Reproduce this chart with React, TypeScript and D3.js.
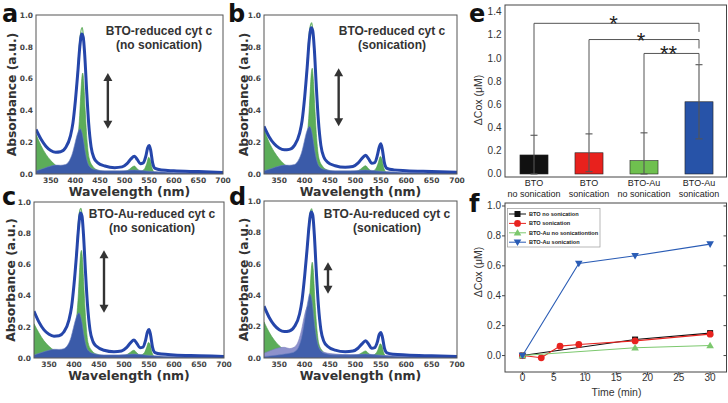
import React from "react";
import * as d3 from "d3";

// ---------- Spectra (panels a-d) ----------
const SPEC_W = [320,330,340,350,360,370,380,390,395,400,405,409,413,416,419,423,427,432,438,445,460,480,495,505,513,520,526,532,538,543,547,550,553,557,562,575,600,650,700];
const lineA = [.28,.22,.175,.148,.137,.14,.165,.24,.32,.46,.64,.8,.88,.86,.75,.52,.32,.17,.1,.072,.05,.04,.045,.065,.095,.112,.09,.065,.07,.11,.165,.18,.15,.07,.035,.025,.02,.015,.01];
const lineB = [.30,.235,.19,.163,.152,.155,.18,.255,.335,.48,.67,.84,.92,.9,.79,.55,.34,.18,.105,.075,.052,.042,.047,.068,.098,.118,.095,.068,.072,.115,.17,.19,.155,.072,.036,.026,.021,.016,.011];
const lineC = [.30,.23,.18,.152,.14,.143,.168,.245,.325,.47,.66,.83,.93,.91,.79,.55,.34,.18,.105,.075,.05,.04,.045,.066,.097,.115,.092,.066,.07,.112,.168,.182,.15,.07,.035,.025,.02,.015,.01];
const lineD = [.33,.26,.21,.18,.168,.172,.2,.28,.37,.52,.7,.85,.93,.91,.79,.55,.34,.18,.105,.075,.05,.04,.044,.062,.09,.11,.088,.062,.066,.1,.15,.162,.135,.065,.033,.024,.019,.014,.01];

const TIP_W = [395,400,405,409,412,414,416,419,423,427,432,438,445];
const tipA = [.32,.47,.67,.84,.91,.92,.88,.76,.52,.32,.17,.1,.072];
const tipB = [.335,.49,.7,.88,.94,.95,.91,.79,.55,.34,.18,.105,.075];
const tipC = [.325,.48,.69,.88,.95,.96,.92,.79,.55,.34,.18,.105,.075];
const tipD = [.37,.53,.72,.88,.94,.95,.91,.79,.55,.34,.18,.105,.075];

const GREEN_W = [320,330,340,350,360,370,380,390,398,404,408,411,413,415,417,420,424,428,435,445,470,500,510,516,520,525,532,540,545,549,552,556,562,600,700];
const greenA = [.25,.18,.125,.085,.055,.038,.035,.06,.11,.2,.33,.5,.6,.635,.58,.4,.2,.1,.05,.025,.01,.015,.03,.045,.05,.035,.018,.03,.065,.105,.09,.035,.008,0,0];
const greenB = [.28,.2,.14,.095,.062,.043,.04,.065,.115,.21,.35,.52,.63,.665,.6,.42,.21,.1,.05,.025,.01,.015,.03,.046,.052,.036,.018,.032,.07,.11,.095,.036,.008,0,0];
const greenC = [.22,.16,.11,.075,.05,.035,.035,.065,.12,.22,.37,.55,.66,.69,.63,.44,.22,.1,.05,.025,.01,.015,.03,.045,.05,.035,.018,.03,.065,.1,.088,.034,.008,0,0];
const greenD = [.23,.165,.115,.078,.052,.036,.034,.06,.1,.18,.3,.45,.56,.61,.56,.38,.19,.09,.045,.022,.01,.014,.028,.04,.045,.032,.016,.028,.058,.09,.078,.03,.007,0,0];

const BLUE_W = [320,335,350,360,370,380,388,394,399,403,407,410,413,416,420,425,431,440,460,490,520,540,560,600,700];
const blueA = [.02,.035,.05,.056,.055,.06,.085,.13,.19,.24,.275,.285,.265,.22,.14,.07,.04,.028,.02,.02,.025,.02,.015,.01,.005];
const blueB = [.02,.035,.05,.056,.055,.06,.088,.135,.2,.255,.29,.3,.28,.23,.145,.072,.04,.028,.02,.02,.025,.02,.015,.01,.005];
const blueC = [.02,.035,.05,.056,.055,.06,.086,.132,.195,.245,.28,.29,.27,.225,.142,.07,.04,.028,.02,.02,.025,.02,.015,.01,.005];
const blueD = [.01,.015,.02,.025,.03,.04,.07,.13,.22,.3,.37,.41,.39,.32,.2,.1,.05,.03,.02,.02,.025,.02,.015,.01,.005];
const lavD = [.03,.05,.065,.068,.06,.07,.11,.18,.26,.31,.33,.32,.28,.22,.14,.08,.05,.035,.025,.02,.02,.018,.015,.01,.005];

const WL_TICKS = [350,400,450,500,550,600,650,700];
const ABS_TICKS = [0,0.2,0.4,0.6,0.8,1.0];

// ---------- Bar chart (panel e) ----------
const barLine1 = ["BTO","BTO","BTO-Au","BTO-Au"];
const barLine2 = ["no sonication","sonication","no sonication","sonication"];
const barValues = [0.164,0.183,0.115,0.623];
const barErrors = [0.17,0.163,0.24,0.32];
const barColors = ["#111111","#e8211d","#6fc04f","#2753a8"];
const E_TICKS = [0,0.2,0.4,0.6,0.8,1.0,1.2,1.4];
const sigFrom = [0,1,2];
const sigTo = [3,3,3];
const sigTop = [1.30,1.16,1.04];
const sigRightEnd = [1.226,1.083,0.95];
const sigLabel = ["*","*","**"];

// ---------- Time course (panel f) ----------
const seriesNames = ["BTO no sonication","BTO sonication","BTO-Au no sonicationtion","BTO-Au sonication"];
const tBtoNo = [0,18,30];
const vBtoNo = [0,0.107,0.15];
const tBtoSon = [0,3,6,9,18,30];
const vBtoSon = [0,-0.015,0.063,0.074,0.098,0.143];
const tAuNo = [0,18,30];
const vAuNo = [0,0.052,0.067];
const tAuSon = [0,9,18,30];
const vAuSon = [0,0.615,0.667,0.745];
const seriesColors = ["#111111","#e8231f","#7cc86e","#2a5cb5"];
const F_XTICKS = [0,5,10,15,20,25,30];
const F_YTICKS = [0,0.2,0.4,0.6,0.8,1.0];

type Pt = [number, number];
const zip = (xs: number[], ys: number[]): Pt[] => xs.map((x, i) => [x, ys[i]]);

const DJ = "'DejaVu Sans', sans-serif";
const AR = "'Liberation Sans', Arial, sans-serif";

function Spectrum(p: any) {
  const [x0, x1, yT, yB] = p.box;
  const x = d3.scaleLinear().domain([320, 700]).range([x0, x1]);
  const y = d3.scaleLinear().domain([0, 1]).range([yB, yT]);
  const area = d3.area<Pt>().x(d => x(d[0])).y0(yB).y1(d => y(d[1])).curve(d3.curveMonotoneX);
  const ln = d3.line<Pt>().x(d => x(d[0])).y(d => y(d[1])).curve(d3.curveMonotoneX);
  const line = zip(SPEC_W, p.line);
  const tip = zip(TIP_W, p.tip);
  const green = zip(GREEN_W, p.green);
  const blue = zip(BLUE_W, p.blue);
  const lav = p.lav ? zip(BLUE_W, p.lav) : null;
  const gMax = d3.max(p.green as number[])!;
  const bMax = d3.max(p.blue as number[])!;
  const ax = x(p.arrowWl);
  const ayT = y(gMax), ayB = y(bMax);
  const fmt = d3.format(".1f");
  const cid = "clip-" + p.id;
  return (
    <g>
      <clipPath id={cid}><rect x={x0} y={yT} width={x1 - x0} height={yB - yT} /></clipPath>
      <g clipPath={`url(#${cid})`}>
        <path d={area(green)!} fill="#5cad59" stroke="#4a9a4a" strokeWidth={0.6} />
        {lav && <path d={area(lav)!} fill="#8e92cc" stroke="#7a80c0" strokeWidth={0.6} />}
        <path d={area(blue)!} fill="#3b5ba9" fillOpacity={lav ? 0.92 : 1} stroke="#6b7fc0" strokeWidth={0.6} />
        <path d={ln(tip)!} fill="none" stroke="#6fb56c" strokeWidth={1.2} />
        <path d={ln(line)!} fill="none" stroke="#2546aa" strokeWidth={3} strokeLinejoin="round" />
      </g>
      <rect x={x0} y={yT} width={x1 - x0} height={yB - yT} fill="none" stroke="#555" strokeWidth={1} />
      <line x1={ax} x2={ax} y1={ayT + 5} y2={ayB - 5} stroke="#333" strokeWidth={2.4} />
      <path d={`M${ax},${ayT} L${ax - 4.5},${ayT + 8} L${ax + 4.5},${ayT + 8} Z`} fill="#333" />
      <path d={`M${ax},${ayB} L${ax - 4.5},${ayB - 8} L${ax + 4.5},${ayB - 8} Z`} fill="#333" />
      {WL_TICKS.map(t => (
        <text key={"x" + t} x={x(t)} y={yB + 9} fontFamily={DJ} fontWeight="bold" fontSize={7.5} fill="#444" textAnchor="middle">{t}</text>
      ))}
      {ABS_TICKS.map(t => (
        <text key={"y" + t} x={x0 - 3} y={y(t) + 2.7} fontFamily={DJ} fontWeight="bold" fontSize={7.5} fill="#444" textAnchor="end">{fmt(t)}</text>
      ))}
      <text x={(x0 + x1) / 2} y={yB + 21.5} fontFamily={DJ} fontWeight="bold" fontSize={12.5} fill="#333" textAnchor="middle">Wavelength (nm)</text>
      <text transform={`translate(${p.ylabX},${(yT + yB) / 2}) rotate(-90)`} dy="0.36em" fontFamily={DJ} fontWeight="bold" fontSize={12.3} fill="#333" textAnchor="middle">Absorbance (a.u.)</text>
      <text x={p.titleX} y={p.titleY[0]} fontFamily={AR} fontWeight="bold" fontSize={12} fill="#333" textAnchor="middle">{p.title[0]}</text>
      <text x={p.titleX} y={p.titleY[1]} fontFamily={AR} fontWeight="bold" fontSize={12} fill="#333" textAnchor="middle">{p.title[1]}</text>
      <text x={p.letterPos[0]} y={p.letterPos[1]} fontFamily={DJ} fontWeight="bold" fontSize={24} fill="#111">{p.letter}</text>
    </g>
  );
}

function BarPanel() {
  const xb = d3.scaleBand<number>().domain([0, 1, 2, 3]).range([506.5, 726.5]).paddingInner(0.49).paddingOuter(0.245);
  const y = d3.scaleLinear().domain([-0.026, 1.458]).range([177, 5]);
  const cx = (i: number) => xb(i)! + xb.bandwidth() / 2;
  const fmt = d3.format(".1f");
  return (
    <g>
      <rect x={505} y={5} width={221.5} height={172} fill="none" stroke="#444" strokeWidth={1} />
      {barValues.map((v, i) => (
        <rect key={"b" + i} x={xb(i)} y={y(v)} width={xb.bandwidth()} height={y(0) - y(v)} fill={barColors[i]} stroke="#222" strokeWidth={0.6} />
      ))}
      {barValues.map((v, i) => {
        const hi = y(v + barErrors[i]);
        const lo = y(Math.max(0, v - barErrors[i]));
        const c = cx(i);
        return (
          <g key={"e" + i} stroke="#555" strokeWidth={1.1}>
            <line x1={c} x2={c} y1={hi} y2={lo} />
            <line x1={c - 3.5} x2={c + 3.5} y1={hi} y2={hi} />
            <line x1={c - 3.5} x2={c + 3.5} y1={lo} y2={lo} />
          </g>
        );
      })}
      {sigFrom.map((f, k) => {
        const a = cx(f), b = cx(sigTo[k]);
        const ys = y(barValues[f] + barErrors[f]);
        return (
          <g key={"s" + k}>
            <path d={`M${a},${ys} V${y(sigTop[k])} H${b} V${y(sigRightEnd[k])}`} fill="none" stroke="#555" strokeWidth={1} />
            <text x={(a + b) / 2 - 3} y={y(sigTop[k]) + 8} fontFamily={AR} fontSize={22} fill="#222" textAnchor="middle">{sigLabel[k]}</text>
          </g>
        );
      })}
      {E_TICKS.map(t => (
        <text key={"t" + t} x={501.5} y={y(t) + 3.5} fontFamily={AR} fontSize={10} fill="#333" textAnchor="end">{fmt(t)}</text>
      ))}
      {barLine1.map((s, i) => (
        <text key={"l1" + i} x={cx(i)} y={186} fontFamily={AR} fontSize={9} fill="#222" textAnchor="middle">{s}</text>
      ))}
      {barLine2.map((s, i) => (
        <text key={"l2" + i} x={cx(i)} y={196.5} fontFamily={AR} fontSize={9} fill="#222" textAnchor="middle">{s}</text>
      ))}
      <text transform="translate(478,100) rotate(-90)" dy="0.35em" fontFamily={AR} fontSize={10.5} fill="#333" textAnchor="middle">ΔCox (μM)</text>
      <text x={469} y={22} fontFamily={DJ} fontWeight="bold" fontSize={24} fill="#111">e</text>
    </g>
  );
}

function Marker({ kind, x, y, color }: any) {
  if (kind === 0) return <rect x={x - 3} y={y - 3} width={6} height={6} fill={color} />;
  if (kind === 1) return <circle cx={x} cy={y} r={3.4} fill={color} />;
  if (kind === 2) return <path d={`M${x},${y - 3.8} L${x + 3.8},${y + 2.8} L${x - 3.8},${y + 2.8} Z`} fill={color} />;
  return <path d={`M${x},${y + 3.8} L${x + 3.8},${y - 2.8} L${x - 3.8},${y - 2.8} Z`} fill={color} />;
}

function TimePanel() {
  const x = d3.scaleLinear().domain([-2.8, 32.7]).range([505, 727]);
  const y = d3.scaleLinear().domain([-0.11, 1.02]).range([372, 203]);
  const ln = d3.line<Pt>().x(d => x(d[0])).y(d => y(d[1]));
  const series = [zip(tBtoNo, vBtoNo), zip(tBtoSon, vBtoSon), zip(tAuNo, vAuNo), zip(tAuSon, vAuSon)];
  const fmt = d3.format(".1f");
  const legY = (i: number) => 214 + i * 9.4;
  return (
    <g>
      <rect x={505} y={203} width={221.5} height={169} fill="none" stroke="#444" strokeWidth={1} />
      {F_XTICKS.map(t => (
        <g key={"xt" + t}>
          <line x1={x(t)} x2={x(t)} y1={372} y2={375} stroke="#444" />
          <text x={x(t)} y={380.5} fontFamily={AR} fontSize={10} fill="#333" textAnchor="middle">{t}</text>
        </g>
      ))}
      {F_YTICKS.map(t => (
        <g key={"yt" + t}>
          <line x1={502} x2={505} y1={y(t)} y2={y(t)} stroke="#444" />
          <line x1={723.5} x2={726.5} y1={y(t)} y2={y(t)} stroke="#444" />
          <text x={501} y={y(t) + 3.5} fontFamily={AR} fontSize={10} fill="#333" textAnchor="end">{fmt(t)}</text>
        </g>
      ))}
      {series.map((s, i) => (
        <g key={"s" + i}>
          <path d={ln(s)!} fill="none" stroke={seriesColors[i]} strokeWidth={1.1} />
          {s.map((d, j) => <Marker key={j} kind={i} x={x(d[0])} y={y(d[1])} color={seriesColors[i]} />)}
        </g>
      ))}
      <rect x={507.5} y={208.5} width={92.5} height={38.5} fill="#fff" stroke="#999" strokeWidth={0.7} />
      {seriesNames.map((n, i) => (
        <g key={"lg" + i}>
          <line x1={509} x2={526} y1={legY(i)} y2={legY(i)} stroke={seriesColors[i]} strokeWidth={1} />
          <Marker kind={i} x={517.5} y={legY(i)} color={seriesColors[i]} />
          <text x={529} y={legY(i) + 2} fontFamily={AR} fontWeight="bold" fontSize={5.6} fill="#222">{n}</text>
        </g>
      ))}
      <text x={616.5} y={395.5} fontFamily={AR} fontSize={10.5} fill="#333" textAnchor="middle">Time (min)</text>
      <text transform="translate(478,272) rotate(-90)" dy="0.35em" fontFamily={AR} fontSize={10.5} fill="#333" textAnchor="middle">ΔCox (μM)</text>
      <text x={469} y={212} fontFamily={DJ} fontWeight="bold" fontSize={24} fill="#111">f</text>
    </g>
  );
}

export default function App() {
  return (
    <svg width={728} height={403} style={{ position: "absolute", left: 0, top: 0, background: "#fff" }}>
      <rect width={728} height={403} fill="#fff" />
      <Spectrum id="a" box={[36, 223, 15, 174]} line={lineA} tip={tipA} green={greenA} blue={blueA} arrowWl={466}
        title={["BTO-reduced cyt c", "(no sonication)"]} titleX={159} titleY={[34.5, 48.5]} letter="a" letterPos={[2, 22]} ylabX={12} />
      <Spectrum id="b" box={[264, 457, 15, 174]} line={lineB} tip={tipB} green={greenB} blue={blueB} arrowWl={467}
        title={["BTO-reduced cyt c", "(sonication)"]} titleX={392} titleY={[35, 48.5]} letter="b" letterPos={[228, 22]} ylabX={244} />
      <Spectrum id="c" box={[34, 224, 202, 358]} line={lineC} tip={tipC} green={greenC} blue={blueC} arrowWl={460}
        title={["BTO-Au-reduced cyt c", "(no sonication)"]} titleX={152} titleY={[218, 232]} letter="c" letterPos={[2, 205]} ylabX={11} />
      <Spectrum id="d" box={[264, 457, 201, 358]} line={lineD} tip={tipD} green={greenD} blue={blueD} lav={lavD} arrowWl={446}
        title={["BTO-Au-reduced cyt c", "(sonication)"]} titleX={387} titleY={[218, 232]} letter="d" letterPos={[229, 205]} ylabX={244} />
      <BarPanel />
      <TimePanel />
    </svg>
  );
}
